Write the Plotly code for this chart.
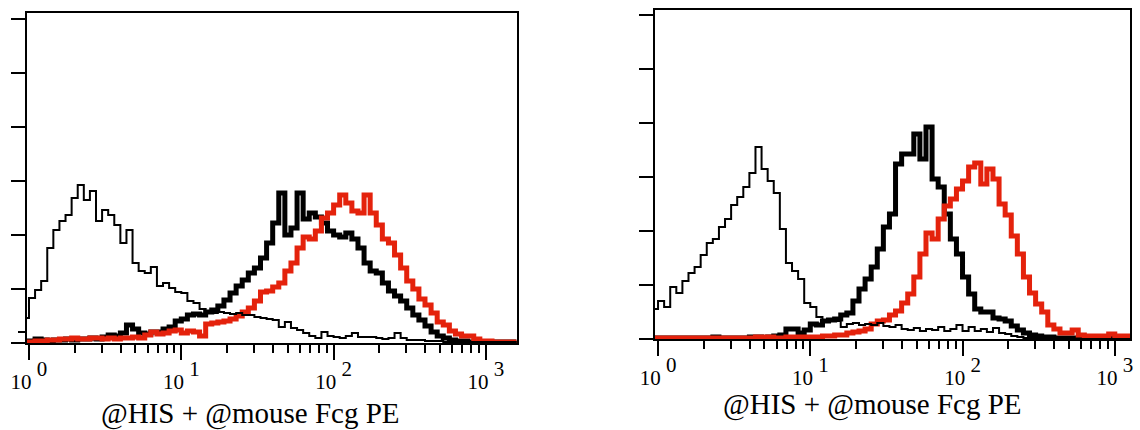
import numpy as np
import plotly.graph_objects as go

# ---------------- data (histogram counts per log-spaced channel bin) ----------------
BIN_START_LOG = -0.04   # first bin start, log10 fluorescence
BIN_STEP_LOG = 0.04     # bin width, decades

left_control = [
    25, 45, 53, 62, 95, 113, 122, 128, 145, 158,
    143, 152, 122, 133, 128, 118, 100, 113, 80, 72,
    70, 76, 57, 60, 55, 51, 50, 42, 40, 34,
    32, 30, 31, 30, 29, 30, 28, 28, 26, 25,
    24, 23, 16, 21, 15, 13, 10, 7, 5, 11,
    7, 6, 5, 7, 10, 6, 6, 6, 5, 4,
    5, 10, 5, 3, 3, 3, 2, 2, 2, 1,
    1, 1, 1, 1, 1, 1, 1, 1, 1, 1,
    1, 1,
]
left_black = [
    2, 2, 4, 3, 2, 3, 3, 4, 3, 4,
    4, 5, 4, 6, 8, 7, 10, 18, 14, 10,
    9, 11, 11, 14, 16, 22, 24, 28, 29, 28,
    31, 33, 37, 43, 50, 57, 63, 70, 75, 85,
    100, 120, 150, 108, 115, 150, 124, 130, 126, 120,
    112, 108, 106, 110, 104, 95, 80, 72, 70, 60,
    52, 47, 42, 35, 28, 23, 17, 11, 7, 5,
    3, 2, 2, 1, 1, 1, 1, 1, 1, 1,
    1, 2,
]
left_red = [
    1, 1, 2, 2, 3, 3, 4, 4, 5, 4,
    4, 5, 5, 4, 5, 4, 5, 5, 6, 5,
    8, 11, 9, 10, 12, 13, 10, 12, 11, 7,
    19, 20, 21, 22, 24, 27, 31, 35, 42, 51,
    52, 56, 60, 72, 80, 95, 106, 104, 112, 125,
    130, 138, 148, 140, 132, 130, 148, 130, 118, 104,
    100, 88, 75, 62, 54, 44, 38, 30, 21, 18,
    12, 9, 7, 7, 4, 2, 2, 1, 1, 1,
    1, 1,
]

right_control = [
    30, 38, 32, 52, 46, 58, 66, 72, 84, 96,
    100, 112, 120, 134, 142, 152, 166, 192, 170, 158,
    146, 110, 76, 68, 60, 36, 32, 22, 19, 19,
    18, 12, 15, 16, 14, 15, 14, 16, 13, 12,
    14, 10, 9, 11, 8, 10, 9, 12, 8, 10,
    14, 8, 12, 8, 10, 7, 11, 6, 5, 3,
    2, 1, 1, 1, 1, 1, 0, 0, 0, 0,
    0, 0, 0, 0, 0, 0, 0, 0, 0, 0,
]
right_black = [
    1, 1, 1, 1, 1, 1, 1, 1, 1, 1,
    2, 1, 1, 1, 1, 1, 2, 2, 1, 2,
    3, 4, 10, 10, 6, 9, 15, 14, 18, 19,
    20, 24, 26, 38, 50, 60, 72, 90, 112, 125,
    175, 185, 185, 205, 180, 212, 160, 152, 125, 100,
    85, 62, 45, 30, 27, 27, 21, 20, 18, 13,
    9, 6, 4, 3, 2, 2, 1, 1, 1, 1,
    1, 1, 1, 1, 1, 1, 1, 1, 1, 1,
]
right_red = [
    1, 1, 1, 1, 1, 1, 1, 1, 1, 1,
    1, 1, 1, 1, 1, 1, 1, 2, 2, 2,
    1, 1, 2, 2, 2, 2, 2, 2, 3, 3,
    4, 4, 6, 7, 8, 10, 15, 18, 19, 24,
    28, 36, 45, 62, 85, 106, 100, 120, 133, 140,
    150, 158, 172, 176, 155, 170, 160, 135, 124, 103,
    85, 62, 46, 35, 27, 14, 10, 6, 6, 9,
    4, 3, 3, 3, 3, 5, 3, 3, 3, 3,
]

decade_values = [1, 10, 100, 1000]
decade_base = ["10", "10", "10", "10"]
decade_exponent = ["0", "1", "2", "3"]
axis_title = "@HIS + @mouse Fcg PE"
count_tick_step = 54

# ---------------- styling ----------------
BLACK = "#000000"
RED = "#E4220C"
FONT = "Liberation Serif, Times New Roman, serif"
W, H = 1140, 430


def channels(n):
    return 10 ** (BIN_START_LOG + BIN_STEP_LOG * np.arange(n))


tick_text = [
    f"<span style='font-size:21px'>{b}</span><sup> {e}</sup>"
    for b, e in zip(decade_base, decade_exponent)
]
minor_vals = [m * 10 ** e for e in range(0, 4) for m in range(2, 10)]

fig = go.Figure()

panels = [
    dict(xa="x", ya="y", data=(left_black, left_red, left_control)),
    dict(xa="x2", ya="y2", data=(right_black, right_red, right_control)),
]
for p in panels:
    blk, red, ctl = p["data"]
    fig.add_trace(go.Scatter(x=channels(len(blk)), y=blk, mode="lines",
                             line=dict(color=BLACK, width=5, shape="hv"),
                             xaxis=p["xa"], yaxis=p["ya"], showlegend=False))
    fig.add_trace(go.Scatter(x=channels(len(red)), y=red, mode="lines",
                             line=dict(color=RED, width=5, shape="hv"),
                             xaxis=p["xa"], yaxis=p["ya"], showlegend=False))
    fig.add_trace(go.Scatter(x=channels(len(ctl)), y=ctl, mode="lines",
                             line=dict(color=BLACK, width=2, shape="hv"),
                             xaxis=p["xa"], yaxis=p["ya"], showlegend=False))


def xaxis_style(domain, rng, anchor):
    return dict(
        type="log", domain=domain, range=rng, anchor=anchor, automargin=False,
        tickmode="array", tickvals=decade_values, ticktext=tick_text,
        ticks="outside", ticklen=15, tickwidth=2, tickcolor=BLACK,
        ticklabelstandoff=-7,
        minor=dict(tickmode="array", tickvals=minor_vals, ticks="outside",
                   ticklen=8, tickwidth=2, tickcolor=BLACK, showgrid=False),
        showline=True, linecolor=BLACK, linewidth=2, mirror=True,
        showgrid=False, zeroline=False,
        tickfont=dict(family=FONT, size=30, color=BLACK),
    )


def yaxis_style(domain, rng, anchor, minor_ticks):
    d = dict(
        domain=domain, range=rng, anchor=anchor, automargin=False,
        tickmode="linear", tick0=0, dtick=count_tick_step,
        ticks="outside", ticklen=14, tickwidth=2, tickcolor=BLACK,
        showticklabels=False,
        showline=True, linecolor=BLACK, linewidth=2, mirror=True,
        showgrid=False, zeroline=False,
    )
    if minor_ticks:
        d["minor"] = dict(tickmode="array", tickvals=minor_ticks, ticks="outside",
                          ticklen=7, tickwidth=2, tickcolor=BLACK, showgrid=False)
    return d


fig.update_layout(
    width=W, height=H,
    margin=dict(l=0, r=0, t=0, b=0, autoexpand=False),
    paper_bgcolor="white", plot_bgcolor="white",
    xaxis=xaxis_style([27 / W, 517 / W], [-0.013, 3.204], "y"),
    yaxis=yaxis_style([1 - 343 / H, 1 - 13 / H], [0, 330], "x", [11]),
    xaxis2=xaxis_style([655 / W, 1130 / W], [-0.02, 3.10], "y2"),
    yaxis2=yaxis_style([1 - 339 / H, 1 - 10 / H], [0, 329], "x2", None),
    annotations=[
        dict(text=axis_title, xref="paper", yref="paper", x=250 / W, y=1 - 413 / H,
             xanchor="center", yanchor="middle", showarrow=False,
             font=dict(family=FONT, size=29, color=BLACK)),
        dict(text=axis_title, xref="paper", yref="paper", x=872 / W, y=1 - 404 / H,
             xanchor="center", yanchor="middle", showarrow=False,
             font=dict(family=FONT, size=29, color=BLACK)),
    ],
)

fig.write_html("out.html")
